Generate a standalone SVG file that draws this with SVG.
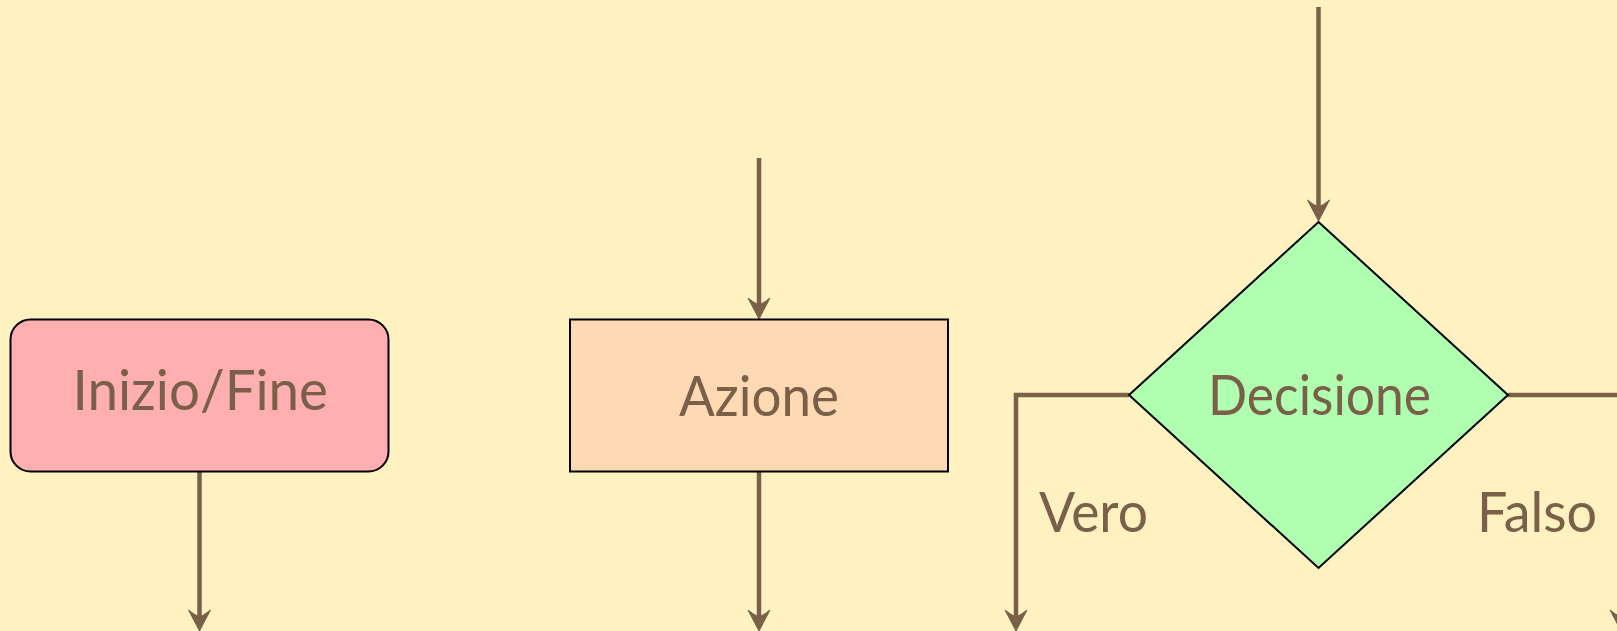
<svg xmlns="http://www.w3.org/2000/svg" xmlns:xlink="http://www.w3.org/1999/xlink" width="1617" height="631" viewBox="0 0 1617 631">
<style>
.bg{fill:#FFF2C0}
.lbl{font-family:Lato,"Liberation Sans",sans-serif;font-size:57px;fill:#7A6048}
.edge{fill:none;stroke:#7A6048;stroke-width:4.5}
.node{stroke:#000;stroke-width:2}
.head{fill:#7A6048;stroke:#7A6048;stroke-width:1;stroke-linejoin:miter}
</style>
<defs>
<path id="ah" class="head" d="M0,0 L-11,-21 Q-5,-16 0,-14 Q5,-16 11,-21 Z"/>
</defs>
<rect class="bg" x="0" y="0" width="1617" height="631"/>
<g id="connectors">
<path class="edge" d="M199.5,471 V617"/>
<use xlink:href="#ah" x="199.5" y="631"/>
<path class="edge" d="M759,158 V305"/>
<use xlink:href="#ah" x="759" y="319"/>
<path class="edge" d="M759,471 V617"/>
<use xlink:href="#ah" x="759" y="631"/>
<path class="edge" d="M1318.5,7 V207"/>
<use xlink:href="#ah" x="1318.5" y="221"/>
<path class="edge" d="M1129,395 H1016 V617"/>
<use xlink:href="#ah" x="1016" y="631"/>
<path class="edge" d="M1508,395 H1621 V617"/>
<use xlink:href="#ah" x="1621" y="631"/>
<text class="lbl" x="1039" y="532" textLength="109" lengthAdjust="spacingAndGlyphs">Vero</text>
<text class="lbl" x="1477" y="532" textLength="120" lengthAdjust="spacingAndGlyphs">Falso</text>
</g>
<g id="inizio">
<rect class="node" x="10.5" y="319.5" width="378" height="152" rx="20" fill="#FFAFAF"/>
<text class="lbl" x="72.5" y="410" textLength="255.5" lengthAdjust="spacingAndGlyphs">Inizio/Fine</text>
</g>
<g id="azione">
<rect class="node" x="570" y="319.5" width="378" height="152" fill="#FFD9B3"/>
<text class="lbl" x="679" y="416" textLength="160" lengthAdjust="spacingAndGlyphs">Azione</text>
</g>
<g id="decisione">
<polygon class="node" points="1318.5,222 1508,395 1318.5,568 1129,395" fill="#B0FFB0"/>
<text class="lbl" x="1208" y="415" textLength="223" lengthAdjust="spacingAndGlyphs">Decisione</text>
</g>
</svg>
